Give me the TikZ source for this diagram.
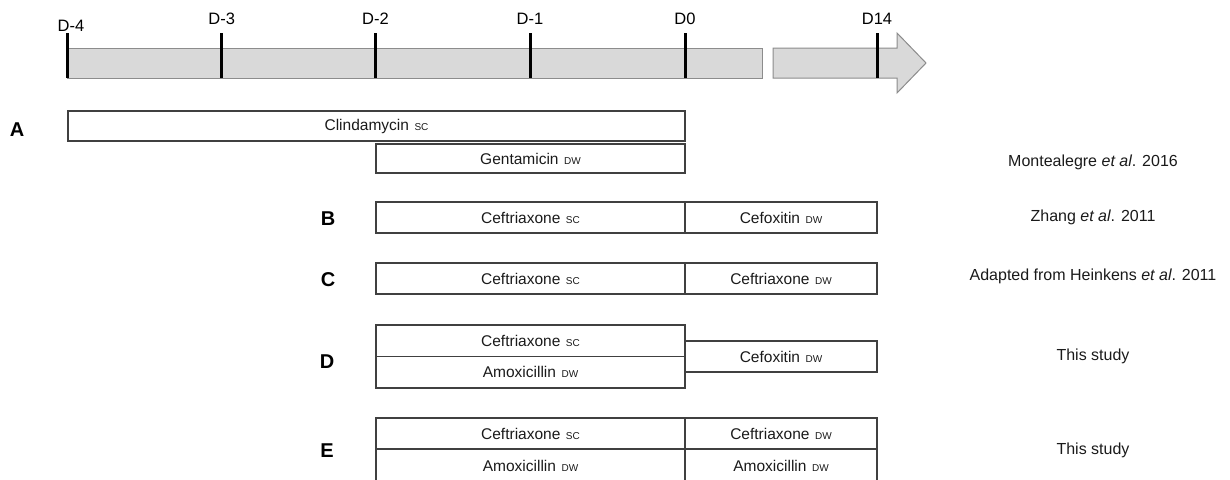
\documentclass[tikz,border=0pt]{standalone}
\usepackage{fontspec}
\setmainfont{Liberation Sans}
\definecolor{barfill}{HTML}{D9D9D9}
\definecolor{barline}{HTML}{8C8C8C}
\definecolor{boxline}{HTML}{404040}
\definecolor{txt}{HTML}{1A1A1A}
\newcommand\drugtag[1]{\hspace{5.5pt}{\fontsize{10}{10}\selectfont #1}}
\tikzset{
  drugbox/.style={draw=boxline, line width=1.6pt, rectangle, inner sep=0pt, text=txt,
    font=\fontsize{15.5}{16}\selectfont},
  daylabel/.style={inner sep=0pt, font=\fontsize{16.5}{17}\selectfont},
  grouplabel/.style={inner sep=0pt, font=\fontsize{20}{20}\selectfont\bfseries},
  reflabel/.style={inner sep=0pt, text=txt, font=\fontsize{16}{17}\selectfont},
  tickline/.style={line width=3pt, black},
  timebar/.style={fill=barfill, draw=barline, line width=1pt}
}
\begin{document}
\begin{tikzpicture}[x=1pt,y=-1pt]
\useasboundingbox (0,0) rectangle (1230,479);
% timeline
\draw[timebar] (67,48) rectangle (762,78);
\draw[timebar] (773,48) -- (897,48) -- (897,33) -- (926,63) -- (897,93) -- (897,78) -- (773,78) -- cycle;
\foreach \n/\x in {m4/67.7, m3/221.7, m2/375.5, m1/530, d0/685, d14/877}{
  \coordinate (t\n top) at (\x,33);
  \coordinate (t\n bot) at (\x,78);
  \draw[tickline] (t\n top) -- (t\n bot);
}
\node[daylabel] (lm4) at (71,26) {D-4};
\node[daylabel] (lm3) at (221.7,19) {D-3};
\node[daylabel] (lm2) at (375.5,19) {D-2};
\node[daylabel] (lm1) at (530,19) {D-1};
\node[daylabel] (ld0) at (685,19) {D0};
\node[daylabel] (ld14) at (877,19) {D14};
% group letters
\node[grouplabel] (gA) at (17,130) {A};
\node[grouplabel] (gB) at (328,219) {B};
\node[grouplabel] (gC) at (328,280) {C};
\node[grouplabel] (gD) at (327,362) {D};
\node[grouplabel] (gE) at (327,451) {E};
% A
\node[drugbox, minimum width=617pt, minimum height=30pt] (a1) at (376.5,126) {Clindamycin\drugtag{SC}};
\node[drugbox, minimum width=309pt, minimum height=29.5pt] (a2) at (530.5,158.5) {Gentamicin\drugtag{DW}};
% B
\node[drugbox, minimum width=309pt, minimum height=31pt] (b1) at (530.5,217.5) {Ceftriaxone\drugtag{SC}};
\node[drugbox, minimum width=192pt, minimum height=31pt] (b2) at (781,217.5) {Cefoxitin\drugtag{DW}};
% C
\node[drugbox, minimum width=309pt, minimum height=31pt] (c1) at (530.5,278.5) {Ceftriaxone\drugtag{SC}};
\node[drugbox, minimum width=192pt, minimum height=31pt] (c2) at (781,278.5) {Ceftriaxone\drugtag{DW}};
% D
\node[drugbox, minimum width=309pt, minimum height=31.5pt] (d1) at (530.5,340.8) {Ceftriaxone\drugtag{SC}};
\node[drugbox, minimum width=309pt, minimum height=31.5pt] (d2) at (530.5,372.3) {Amoxicillin\drugtag{DW}};
\node[drugbox, minimum width=192pt, minimum height=31pt] (d3) at (781,356.5) {Cefoxitin\drugtag{DW}};
% E
\node[drugbox, minimum width=309pt, minimum height=31pt] (e1) at (530.5,433.5) {Ceftriaxone\drugtag{SC}};
\node[drugbox, minimum width=192pt, minimum height=31pt] (e2) at (781,433.5) {Ceftriaxone\drugtag{DW}};
\node[drugbox, minimum width=309pt, minimum height=33pt] (e3) at (530.5,465.5) {Amoxicillin\drugtag{DW}};
\node[drugbox, minimum width=192pt, minimum height=33pt] (e4) at (781,465.5) {Amoxicillin\drugtag{DW}};
% references
\node[reflabel] (rA) at (1093,162) {Montealegre \textit{et al}. 2016};
\node[reflabel] (rB) at (1093,217) {Zhang \textit{et al}. 2011};
\node[reflabel] (rC) at (1093,276) {Adapted from Heinkens \textit{et al}. 2011};
\node[reflabel] (rD) at (1093,356) {This study};
\node[reflabel] (rE) at (1093,450) {This study};
\end{tikzpicture}
\end{document}
